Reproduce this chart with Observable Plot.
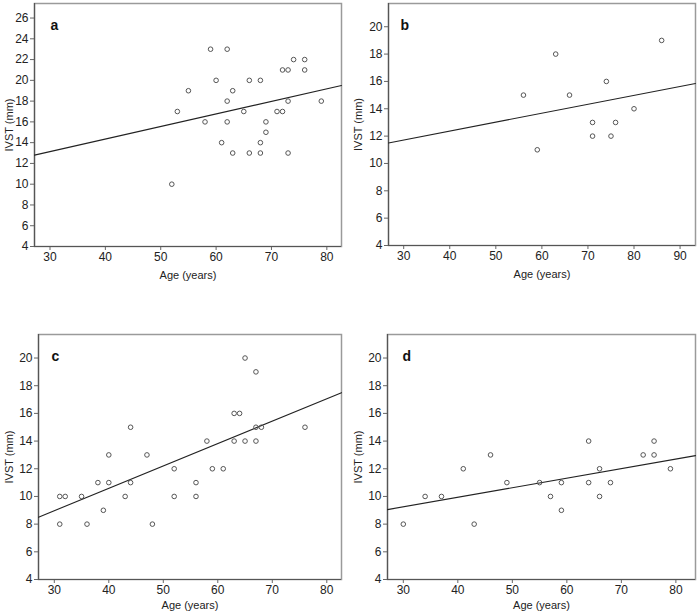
<!DOCTYPE html>
<html>
<head>
<meta charset="utf-8">
<script src="https://cdn.jsdelivr.net/npm/d3@7"></script>
<script src="https://cdn.jsdelivr.net/npm/@observablehq/plot@0.6"></script>
<style>
  html, body { margin: 0; padding: 0; background: #fff; }
  #wrap { position: relative; width: 698px; height: 614px; font-family: "Liberation Sans", Arial, sans-serif; }
  #wrap > div { position: absolute; }
</style>
</head>
<body>
<div id="wrap">
  <div id="pa" style="left:0px;top:0px"></div>
  <div id="pb" style="left:349px;top:0px"></div>
  <div id="pc" style="left:0px;top:307px"></div>
  <div id="pd" style="left:349px;top:307px"></div>
</div>
<script>
// Panel a
const ageA  = [52,53,55,58,59,60,61,62,62,62,63,63,65,66,66,68,68,68,69,69,71,72,72,73,73,73,74,76,76,79];
const ivstA = [10,17,19,16,23,20,14,23,18,16,19,13,17,20,13,20,14,13,16,15,17,17,21,21,18,13,22,22,21,18];
const fitA  = {x: [27.2, 82.65], y: [12.8, 19.5]};
// Panel b
const ageB  = [56,59,63,66,71,71,74,75,76,80,86];
const ivstB = [15,11,18,15,13,12,16,12,13,14,19];
const fitB  = {x: [26.7, 93.35], y: [11.5, 15.85]};
// Panel c
const ageC  = [31,31,32,35,36,38,39,40,40,43,44,44,47,48,52,52,56,56,58,59,61,63,63,64,65,65,67,67,67,68,76];
const ivstC = [10,8,10,10,8,11,9,13,11,10,15,11,13,8,12,10,11,10,14,12,12,16,14,16,20,14,19,15,14,15,15];
const fitC  = {x: [27.1, 82.7], y: [8.5, 17.5]};
// Panel d
const ageD  = [30,34,37,41,43,46,49,55,57,59,59,64,64,66,66,68,74,76,76,79];
const ivstD = [8,10,10,12,8,13,11,11,10,11,9,14,11,12,10,11,13,14,13,12];
const fitD  = {x: [27.1, 83.6], y: [9.05, 12.95]};

const panelLabels = ["a", "b", "c", "d"];
const yTicksA = d3.range(4, 27, 2);
const yTicksBCD = d3.range(4, 21, 2);
const xTicksACD = [30, 40, 50, 60, 70, 80];
const xTicksB = [30, 40, 50, 60, 70, 80, 90];
const xLabel = "Age (years)";
const yLabel = "IVST (mm)";

function panel(cfg) {
  const pts = cfg.age.map((a, i) => ({age: a, ivst: cfg.ivst[i]}));
  const fit = cfg.fit.x.map((x, i) => ({age: x, ivst: cfg.fit.y[i]}));
  return Plot.plot({
    width: 349,
    height: cfg.height,
    marginLeft: cfg.ml, marginRight: cfg.mr, marginTop: cfg.mt, marginBottom: cfg.mb,
    style: {fontFamily: "Liberation Sans, Arial, sans-serif", fontSize: "11px", color: "#222", background: "#fff"},
    x: {domain: cfg.xdom, ticks: cfg.xticks},
    y: {domain: cfg.ydom, ticks: cfg.yticks},
    marks: [
      Plot.frame({stroke: "#9a9a9a", strokeWidth: 1.5}),
      Plot.axisX({ticks: cfg.xticks, tickSize: 4, tickPadding: 2, stroke: "#666", fontSize: 12, fill: "#222", label: null}),
      Plot.axisX({ticks: [], tickSize: 0, label: xLabel, labelAnchor: "center", labelArrow: "none", labelOffset: cfg.xlo, fontSize: 11, fill: "#222"}),
      Plot.axisY({ticks: cfg.yticks, tickSize: 4, tickPadding: 2, stroke: "#666", fontSize: 12, fill: "#222", label: null}),
      Plot.axisY({ticks: [], tickSize: 0, label: yLabel, labelAnchor: "center", labelArrow: "none", labelOffset: cfg.ml - 5, fontSize: 11, fill: "#222"}),
      Plot.ruleX([cfg.xdom[0]], {stroke: "#555", strokeWidth: 1.2}),
      Plot.ruleY([cfg.ydom[0]], {stroke: "#555", strokeWidth: 1.2}),
      Plot.line(fit, {x: "age", y: "ivst", stroke: "#222", strokeWidth: 1.1}),
      Plot.dot(pts, {x: "age", y: "ivst", r: 2.3, stroke: "#555", strokeWidth: 1, fill: "none"}),
      Plot.text([cfg.label], {frameAnchor: "top-left", text: d => d, dx: cfg.ldx, dy: 17, fontSize: 14, fontWeight: "bold", fill: "#111"})
    ]
  });
}

document.getElementById("pa").append(panel({age: ageA, ivst: ivstA, fit: fitA, label: panelLabels[0], height: 300, ldx: 16, xlo: 32,
  ml: 34, mr: 8, mt: 3, mb: 54, xdom: [27.2, 82.65], ydom: [4, 27.4], xticks: xTicksACD, yticks: yTicksA}));
document.getElementById("pb").append(panel({age: ageB, ivst: ivstB, fit: fitB, label: panelLabels[1], height: 300, ldx: 12, xlo: 32,
  ml: 39, mr: 3, mt: 3, mb: 55, xdom: [26.7, 93.35], ydom: [4, 21.7], xticks: xTicksB, yticks: yTicksBCD}));
document.getElementById("pc").append(panel({age: ageC, ivst: ivstC, fit: fitC, label: panelLabels[2], height: 307, ldx: 13, xlo: 29,
  ml: 38, mr: 8, mt: 27, mb: 35, xdom: [27.1, 82.7], ydom: [4, 21.7], xticks: xTicksACD, yticks: yTicksBCD}));
document.getElementById("pd").append(panel({age: ageD, ivst: ivstD, fit: fitD, label: panelLabels[3], height: 307, ldx: 15, xlo: 29,
  ml: 38, mr: 3, mt: 27, mb: 35, xdom: [27.1, 83.6], ydom: [4, 21.7], xticks: xTicksACD, yticks: yTicksBCD}));
</script>
</body>
</html>
